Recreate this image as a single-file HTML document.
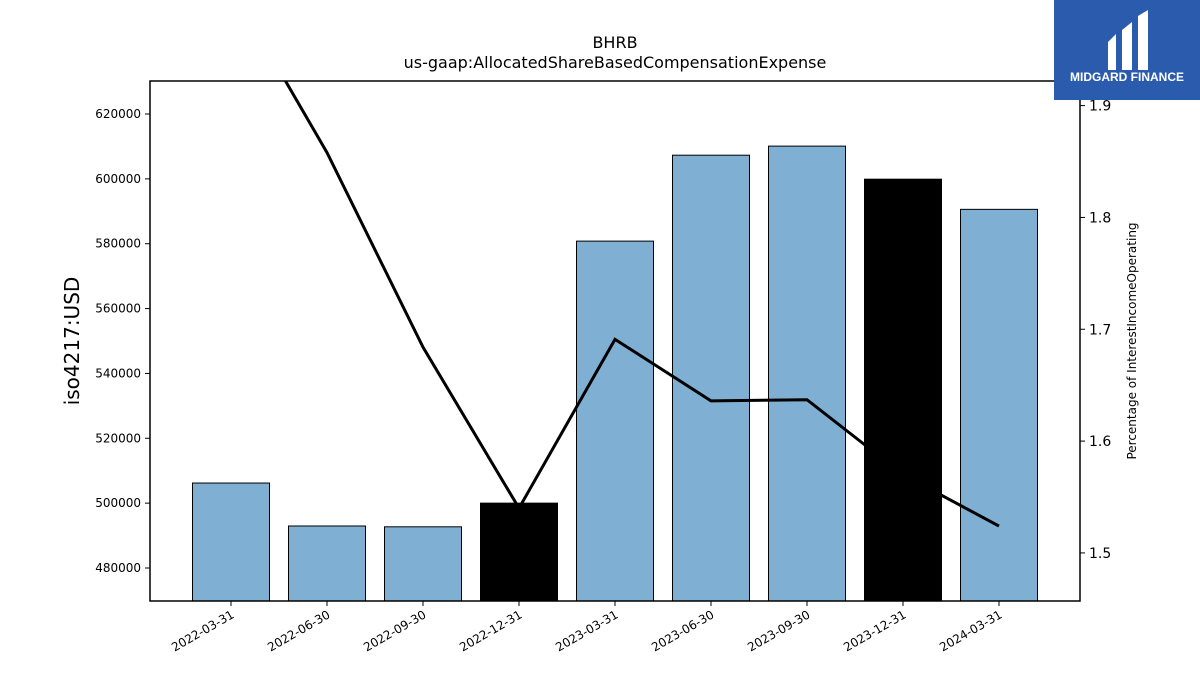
<!DOCTYPE html>
<html><head><meta charset="utf-8"><style>
body{margin:0;background:#fff;width:1200px;height:675px;overflow:hidden;font-family:"Liberation Sans","DejaVu Sans",sans-serif}
</style></head><body>
<svg width="1200" height="675" xmlns="http://www.w3.org/2000/svg" font-family="DejaVu Sans, Liberation Sans, sans-serif">
<text x="615" y="48" text-anchor="middle" font-size="16">BHRB</text>
<text x="615" y="68" text-anchor="middle" font-size="16">us-gaap:AllocatedShareBasedCompensationExpense</text>
<g id="bars"></g>
<g id="line"></g>
<rect x="150" y="81" width="930" height="520" fill="none" stroke="#000" stroke-width="1.5"/>
<g id="axes"></g>
<text transform="translate(79,341) rotate(-90)" text-anchor="middle" font-size="20">iso4217:USD</text>
<text transform="translate(1136,341) rotate(-90)" text-anchor="middle" font-size="12">Percentage of InterestIncomeOperating</text>
<g>
<rect x="1054" y="0" width="146" height="100" fill="#2b5bad"/>
<path d="M1108 42 L1116 34 L1116 70 L1108 70 Z M1122 30 L1132 22 L1132 70 L1122 70 Z M1138 16 L1148 10 L1148 70 L1138 70 Z" fill="#fff"/>
<text x="1127" y="81" text-anchor="middle" font-size="12" font-weight="bold" fill="#fff" font-family="Liberation Sans, sans-serif">MIDGARD FINANCE</text>
</g>
</svg>
<script>
const categories=["2022-03-31","2022-06-30","2022-09-30","2022-12-31","2023-03-31","2023-06-30","2023-09-30","2023-12-31","2024-03-31"];
const barValues=[506200,492950,492700,500000,580800,607300,610100,599900,590600];
const barHighlight=[false,false,false,true,false,false,false,true,false];
const lineValues=[2.006,1.858,1.684,1.540,1.691,1.636,1.637,1.570,1.524];
const yTicks=[480000,500000,520000,540000,560000,580000,600000,620000];
const y2Ticks=[1.5,1.6,1.7,1.8,1.9];
const NS="http://www.w3.org/2000/svg";
const L=150,R=1080,T=81,B=601;
const yMin=469820,yMax=630180,y2Min=1.457,y2Max=1.922;
const x=i=>231+96*i;
const y=v=>B-(v-yMin)/(yMax-yMin)*(B-T);
const y2=v=>B-(v-y2Min)/(y2Max-y2Min)*(B-T);
function mk(t,a,p){const e=document.createElementNS(NS,t);for(const k in a)e.setAttribute(k,a[k]);p.appendChild(e);return e;}
const gb=document.getElementById('bars'),gl=document.getElementById('line'),ga=document.getElementById('axes');
barValues.forEach((v,i)=>{const r=mk('rect',{x:x(i)-38.5,y:y(v),width:77,height:B-y(v),fill:barHighlight[i]?'#000':'#7fb0d3',stroke:'#000','stroke-width':1},gb);

});
const defs=mk('defs',{},gl);const cp=mk('clipPath',{id:'c'},defs);mk('rect',{x:L,y:T,width:R-L,height:B-T},cp);
const pl=mk('polyline',{points:lineValues.map((v,i)=>x(i)+','+y2(v)).join(' '),fill:'none',stroke:'#000','stroke-width':3,'clip-path':'url(#c)'},gl);


yTicks.forEach(v=>{mk('line',{x1:L-5,x2:L,y1:y(v),y2:y(v),stroke:'#000'},ga);const t=mk('text',{x:L-9,y:y(v)+4,'text-anchor':'end','font-size':12},ga);t.textContent=v;

});
y2Ticks.forEach(v=>{mk('line',{x1:R,x2:R+5,y1:y2(v),y2:y2(v),stroke:'#000'},ga);const t=mk('text',{x:R+9,y:y2(v)+5,'font-size':14},ga);t.textContent=v.toFixed(1);

});
categories.forEach((c,i)=>{mk('line',{x1:x(i),x2:x(i),y1:B,y2:B+5,stroke:'#000'},ga);const t=mk('text',{transform:`translate(${x(i)+4},${B+16}) rotate(-30)`,'text-anchor':'end','font-size':12},ga);t.textContent=c;

});
</script>
</body></html>
